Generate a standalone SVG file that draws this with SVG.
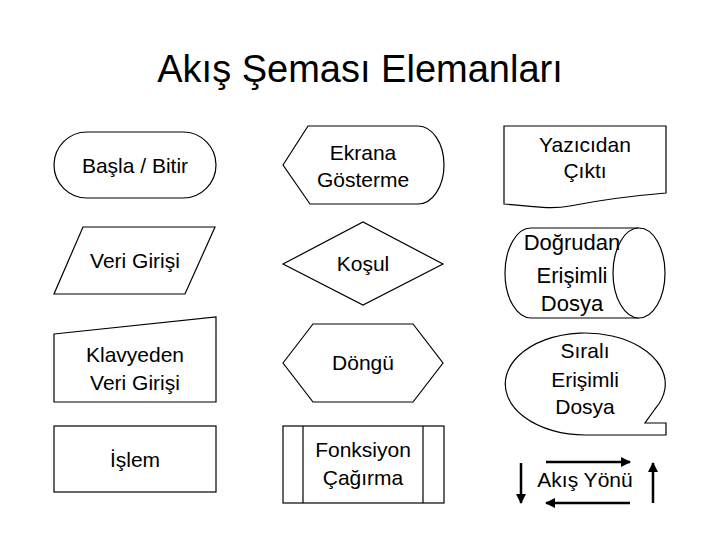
<svg xmlns="http://www.w3.org/2000/svg" width="720" height="540" viewBox="0 0 720 540">
<style>
.s{fill:#fff;stroke:#000;stroke-width:1.2}
.t{font-family:"Liberation Sans",Arial,sans-serif;font-size:21px;fill:#000;text-anchor:middle}
.title{font-family:"Liberation Sans",Arial,sans-serif;font-size:38px;fill:#000;text-anchor:middle}
.a{stroke:#000;stroke-width:2.5;fill:none;marker-end:url(#ah)}
</style>
<defs>
<marker id="ah" viewBox="0 0 10 10" refX="9" refY="5" markerWidth="4" markerHeight="4" orient="auto" markerUnits="strokeWidth">
<path d="M0,0 L10,5 L0,10 Z" fill="#000"/>
</marker>
</defs>
<rect width="720" height="540" fill="#fff"/>
<text class="title" x="360" y="82">Akış Şeması Elemanları</text>

<g id="basla">
<rect class="s" x="54" y="132" width="162" height="66" rx="33" ry="33"/>
<text class="t" x="135" y="173">Başla / Bitir</text>
</g>
<g id="ekrana">
<path class="s" d="M283,165 L308,126 L418,126 A26,39 0 0 1 418,204 L310,204 Z"/>
<text class="t" x="363" y="160">Ekrana</text>
<text class="t" x="363" y="187">Gösterme</text>
</g>
<g id="yazici">
<path class="s" d="M504,126 L666,126 L666,193 C630,196 600,200 570,206 C550,210 530,206 504,204 Z"/>
<text class="t" x="585" y="152">Yazıcıdan</text>
<text class="t" x="585" y="178">Çıktı</text>
</g>
<g id="veri">
<path class="s" d="M83,227 L215,227 L185,294 L54,294 Z"/>
<text class="t" x="135" y="268">Veri Girişi</text>
</g>
<g id="kosul">
<path class="s" d="M283,264 L363,222 L443,264 L363,305 Z"/>
<text class="t" x="363" y="271">Koşul</text>
</g>
<g id="dogrudan">
<path class="s" d="M639,228 L531,228 A26,45 0 0 0 531,318 L639,318"/>
<ellipse class="s" cx="639" cy="273" rx="26" ry="45"/>
<text class="t" x="572" y="250" style="font-size:22px">Doğrudan</text>
<text class="t" x="572" y="283" style="font-size:22px">Erişimli</text>
<text class="t" x="572" y="311" style="font-size:22px">Dosya</text>
</g>
<g id="klavye">
<path class="s" d="M54,334 L216,317 L216,402 L54,402 Z"/>
<text class="t" x="135" y="362">Klavyeden</text>
<text class="t" x="135" y="390">Veri Girişi</text>
</g>
<g id="dongu">
<path class="s" d="M283,363 L313,324 L413,324 L443,363 L413,402 L313,402 Z"/>
<text class="t" x="363" y="370">Döngü</text>
</g>
<g id="sirali">
<path class="s" d="M585,435 A80,51 0 1 1 655,409 L645,423 L666,423 L666,435 Z"/>
<text class="t" x="585" y="358">Sıralı</text>
<text class="t" x="585" y="387">Erişimli</text>
<text class="t" x="585" y="414">Dosya</text>
</g>
<g id="islem">
<rect class="s" x="54" y="426" width="162" height="66"/>
<text class="t" x="135" y="467">İşlem</text>
</g>
<g id="fonksiyon">
<rect class="s" x="283" y="426" width="161" height="77"/>
<line class="s" x1="303" y1="426" x2="303" y2="503"/>
<line class="s" x1="423" y1="426" x2="423" y2="503"/>
<text class="t" x="363" y="457">Fonksiyon</text>
<text class="t" x="363" y="485">Çağırma</text>
</g>
<g id="akis">
<text class="t" x="585" y="487">Akış Yönü</text>
</g>
<g id="connectors">
<line class="a" x1="521" y1="463" x2="521" y2="503"/>
<line class="a" x1="546" y1="462" x2="630" y2="462"/>
<line class="a" x1="630" y1="503" x2="546" y2="503"/>
<line class="a" x1="653" y1="503" x2="653" y2="463"/>
</g>
</svg>
